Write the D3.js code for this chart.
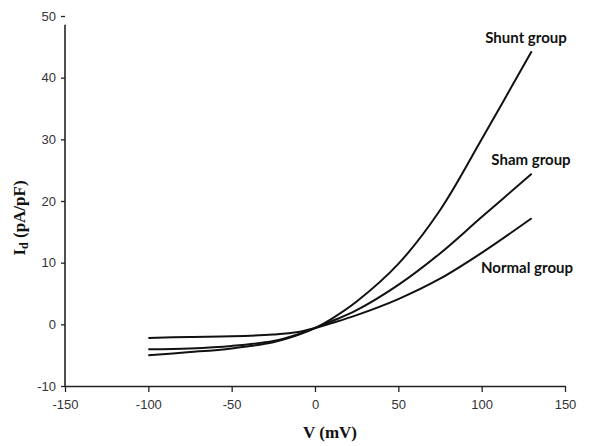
<!DOCTYPE html>
<html><head><meta charset="utf-8">
<script src="https://cdn.jsdelivr.net/npm/d3@7"></script>
<style>body{margin:0;background:#fff}</style>
</head><body>
<svg id="c" width="600" height="446"></svg>
<script>
const voltages = [-100, -75, -50, -25, -10, 0, 10, 25, 50, 75, 100, 130];
const shunt  = [-5.0, -4.5, -3.9, -2.9, -1.7, -0.6, 0.9, 3.7, 9.8, 18.5, 30.0, 44.3];
const sham   = [-4.05, -3.9, -3.5, -2.7, -1.6, -0.6, 0.5, 2.3, 6.4, 11.5, 17.4, 24.4];
const normal = [-2.2, -2.05, -1.95, -1.65, -1.25, -0.6, 0.2, 1.5, 4.1, 7.4, 11.6, 17.2];
const seriesNames = ["Shunt group", "Sham group", "Normal group"];
const xTicks = [-150, -100, -50, 0, 50, 100, 150];
const yTicks = [-10, 0, 10, 20, 30, 40, 50];

const svg = d3.select("#c");
const x = d3.scaleLinear().domain([-150, 150]).range([65, 565]);
const y = d3.scaleLinear().domain([-10, 50]).range([386, 16]);
const fmt = d => String(d);

const tickColor = "#333";
// x axis
const xa = svg.append("g").attr("transform", `translate(0,${y(-10)})`)
  .call(d3.axisBottom(x).tickValues(xTicks).tickSize(6).tickSizeOuter(0).tickFormat(fmt));
xa.select(".domain").attr("stroke", "#222").attr("stroke-width", 1.6);
xa.selectAll(".tick line").attr("stroke", "#222").attr("stroke-width", 1.3);
xa.selectAll(".tick text").attr("font-family", "Arial, 'Liberation Sans', sans-serif")
  .attr("font-size", 13).attr("fill", tickColor).attr("y", 11).attr("dy", "0.95em");

// y axis
const ya = svg.append("g").attr("transform", `translate(${x(-150)},0)`)
  .call(d3.axisLeft(y).tickValues(yTicks).tickSize(4).tickSizeOuter(0).tickFormat(fmt));
ya.select(".domain").remove();
ya.selectAll(".tick line").attr("stroke", "#222").attr("stroke-width", 1.3);
ya.selectAll(".tick text").attr("font-family", "Arial, 'Liberation Sans', sans-serif")
  .attr("font-size", 13).attr("fill", tickColor).attr("x", -9);
svg.append("line").attr("x1", x(-150)).attr("x2", x(-150))
  .attr("y1", y(48.6)).attr("y2", y(-10)).attr("stroke", "#222").attr("stroke-width", 1.6);

// lines
const line = d3.line().x((d, i) => x(voltages[i])).y(d => y(d)).curve(d3.curveCatmullRom.alpha(0.5));
[shunt, sham, normal].forEach(s => {
  svg.append("path").attr("d", line(s)).attr("fill", "none")
    .attr("stroke", "#111").attr("stroke-width", 2);
});

// series labels
const labelPos = [[526, 43], [531, 165], [527, 273]];
seriesNames.forEach((n, i) => {
  svg.append("text").attr("x", labelPos[i][0]).attr("y", labelPos[i][1])
    .attr("text-anchor", "middle").attr("font-family", "Lato, 'Open Sans', sans-serif")
    .attr("font-weight", "bold").attr("font-size", 15).attr("fill", "#111").text(n);
});

// axis titles
svg.append("text").attr("x", 330).attr("y", 438).attr("text-anchor", "middle")
  .attr("font-family", "'Liberation Serif', 'Times New Roman', serif").attr("font-weight", "bold")
  .attr("font-size", 17).attr("fill", "#111").text("V (mV)");
const yt = svg.append("text").attr("transform", "translate(25,218) rotate(-90)")
  .attr("text-anchor", "middle")
  .attr("font-family", "'Liberation Serif', 'Times New Roman', serif").attr("font-weight", "bold")
  .attr("font-size", 17).attr("fill", "#111");
yt.append("tspan").text("I");
yt.append("tspan").attr("font-size", 12).attr("dy", 3).text("d");
yt.append("tspan").attr("dy", -3).text(" (pA/pF)");
</script>
</body></html>
